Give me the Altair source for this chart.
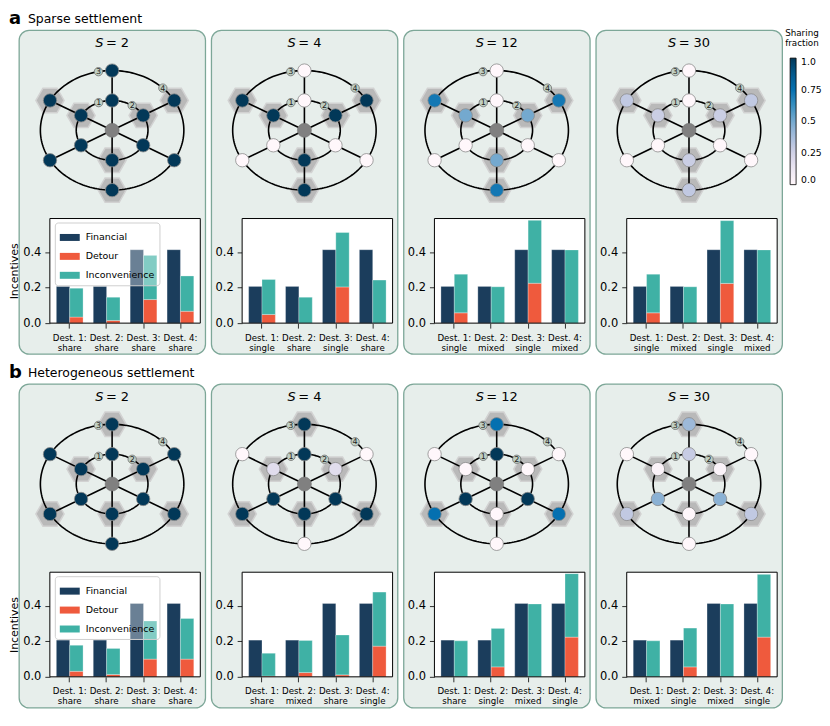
import math
import altair as alt
import pandas as pd

# ---------------- values ----------------
S_VALUES = [2, 4, 12, 30]
DESTINATIONS = ["Dest. 1:", "Dest. 2:", "Dest. 3:", "Dest. 4:"]
COMPONENTS = ["Financial", "Detour", "Inconvenience"]
FINANCIAL = [0.207, 0.207, 0.414, 0.414]

SPARSE_MODES = [["share", "share", "share", "share"],
                ["single", "share", "single", "share"],
                ["single", "mixed", "single", "mixed"],
                ["single", "mixed", "single", "mixed"]]
SPARSE_DETOUR = [[0.034, 0.015, 0.133, 0.067],
                 [0.049, 0.000, 0.204, 0.000],
                 [0.058, 0.000, 0.225, 0.000],
                 [0.058, 0.000, 0.224, 0.000]]
SPARSE_INCONV = [[0.163, 0.131, 0.249, 0.199],
                 [0.197, 0.146, 0.307, 0.243],
                 [0.218, 0.205, 0.355, 0.413],
                 [0.218, 0.205, 0.354, 0.413]]

HETERO_MODES = [["share", "share", "share", "share"],
                ["share", "mixed", "share", "single"],
                ["share", "single", "mixed", "single"],
                ["mixed", "single", "mixed", "single"]]
HETERO_DETOUR = [[0.031, 0.013, 0.100, 0.100],
                 [0.004, 0.024, 0.011, 0.173],
                 [0.000, 0.056, 0.000, 0.224],
                 [0.000, 0.056, 0.000, 0.224]]
HETERO_INCONV = [[0.147, 0.147, 0.215, 0.229],
                 [0.129, 0.181, 0.225, 0.305],
                 [0.203, 0.217, 0.411, 0.358],
                 [0.203, 0.219, 0.411, 0.354]]

# network: six spokes, inner ring (r = 0.5) and outer ring (r = 1)
SPOKE_ANGLES = [90, 30, -30, -90, -150, 150]
RING_RADII = [0.5, 1.0]
SPARSE_HEX = [[0, 1, 0, 1, 0, 1], [0, 1, 0, 1, 0, 1]]   # inner ring, outer ring
HETERO_HEX = [[0, 1, 0, 1, 0, 1], [1, 0, 1, 0, 1, 0]]
SPARSE_SHARE = [
    [[1, 1, 1, 1, 1, 1], [1, 1, 1, 1, 1, 1]],
    [[0, 1, 0, 1, 0, 1], [0, 1, 0, 1, 0, 1]],
    [[0, 0.5, 0, 0.5, 0, 0.5], [0, 0.72, 0, 0.72, 0, 0.72]],
    [[0, 0.27, 0, 0.27, 0, 0.27], [0, 0.3, 0, 0.3, 0, 0.3]],
]
HETERO_SHARE = [
    [[1, 1, 1, 1, 1, 1], [1, 1, 1, 1, 1, 1]],
    [[1, 0.18, 1, 1, 1, 0.18], [1, 0, 1, 0, 1, 0]],
    [[1, 0, 1, 0, 1, 0], [0.75, 0, 0.75, 0, 0.75, 0]],
    [[0.28, 0.03, 0.45, 0, 0.45, 0.03], [0.4, 0, 0.3, 0, 0.3, 0]],
]
DEST_LABELS = ["1", "2", "3", "4"]
DEST_LABEL_RADIUS = [0.5, 0.5, 1.0, 1.0]
DEST_LABEL_ANGLE = [112, 56, 101, 45]
SHARE_TITLE = ["Sharing", "fraction"]

# colour map (ColorBrewer PuBu)
PUBU = ["#fff7fb", "#ece7f2", "#d0d1e6", "#a6bddb", "#74a9cf",
        "#3690c0", "#0570b0", "#045a8d", "#023858"]

# ---------------- layout / style ----------------
PW, PH = 187, 325
CX, CY, RX, RY = 93.5, 100.5, 72, 60
BX0, BX1, BY0, BY1 = 31, 182, 189, 294
YMAX = 0.59
FIN_C, DET_C, INC_C = "#1b3d5c", "#ef5a3d", "#3fb1a5"
BOX_FILL, BOX_STROKE = "#e7eeeb", "#7da798"
HEX_PATH = "M-1,0L-0.5,-0.866L0.5,-0.866L1,0L0.5,0.866L-0.5,0.866Z"
RECT_PATH = "M-1,-0.35L1,-0.35L1,0.35L-1,0.35Z"
FONT = "DejaVu Sans"

share_scale = alt.Scale(domain=[i / 8 for i in range(9)], range=PUBU)
share_legend = alt.Legend(
    orient="none", legendX=774, legendY=28, type="gradient", direction="vertical",
    title=None, padding=0,
    gradientLength=127, gradientThickness=6, gradientStrokeColor="black",
    gradientStrokeWidth=0.8, labelFontSize=9.3, labelOffset=5, labelColor="black",
    labelOverlap=False, values=[0, 0.25, 0.5, 0.75, 1],
    labelExpr="datum.value == 0 ? '0.0' : (datum.value == 1 ? '1.0' : toString(datum.value))",
)
bar_legend = alt.Legend(
    orient="none", legendX=36, legendY=193, title=None, direction="vertical",
    symbolType=RECT_PATH, symbolSize=400, symbolStrokeWidth=0, symbolOpacity=1,
    labelFontSize=9.5, labelOffset=6, labelColor="black", rowPadding=4, padding=5,
    fillColor="rgba(255,255,255,0.35)", strokeColor="#cfcfcf", cornerRadius=3,
)


def one_row(text):
    return pd.DataFrame({"t": [text]})


def network(shares, hexes, s_val, row_tag=None, row_title=None, cbar_title=False):
    xs = alt.Scale(domain=[-1, 1], range=[CX - RX, CX + RX], nice=False, zero=False)
    ys = alt.Scale(domain=[-1, 1], range=[CY + RY, CY - RY], nice=False, zero=False)
    ex = alt.X("x:Q", scale=xs, axis=None)
    ey = alt.Y("y:Q", scale=ys, axis=None)

    ring_rows = []
    for r in RING_RADII:
        for i in range(181):
            t = 2 * math.pi * i / 180
            ring_rows.append({"ring": r, "i": i, "x": r * math.cos(t), "y": r * math.sin(t)})
    rings = alt.Chart(pd.DataFrame(ring_rows)).mark_line(
        color="black", strokeWidth=1.6).encode(x=ex, y=ey, detail="ring:N", order="i:Q")

    spoke_df = pd.DataFrame({
        "x": [0.0] * 6, "y": [0.0] * 6,
        "x2": [math.cos(math.radians(a)) for a in SPOKE_ANGLES],
        "y2": [math.sin(math.radians(a)) for a in SPOKE_ANGLES],
    })
    spokes = alt.Chart(spoke_df).mark_rule(color="black", strokeWidth=1.6).encode(
        x=ex, y=ey, x2="x2:Q", y2="y2:Q")

    node_rows = []
    for ri, r in enumerate(RING_RADII):
        for k, a in enumerate(SPOKE_ANGLES):
            node_rows.append({
                "x": r * math.cos(math.radians(a)), "y": r * math.sin(math.radians(a)),
                "share": shares[ri][k], "hex": hexes[ri][k],
            })
    node_df = pd.DataFrame(node_rows)
    hex_c = alt.Chart(node_df[node_df["hex"] == 1]).mark_point(
        shape=HEX_PATH, filled=True, size=800, fill="#b9b9b9", stroke="#d2d2d2",
        strokeWidth=1.5, opacity=1).encode(x=ex, y=ey)
    nodes_c = alt.Chart(node_df).mark_point(
        shape="circle", filled=True, size=180, stroke="#8c8c8c", strokeWidth=0.8,
        opacity=1).encode(x=ex, y=ey,
                          fill=alt.Fill("share:Q", scale=share_scale, legend=share_legend))
    center = alt.Chart(pd.DataFrame({"x": [0.0], "y": [0.0]})).mark_point(
        shape="circle", filled=True, size=200, fill="#808080", stroke="#707070",
        strokeWidth=0.5, opacity=1).encode(x=ex, y=ey)

    lab_df = pd.DataFrame({
        "x": [r * math.cos(math.radians(a)) for r, a in zip(DEST_LABEL_RADIUS, DEST_LABEL_ANGLE)],
        "y": [r * math.sin(math.radians(a)) for r, a in zip(DEST_LABEL_RADIUS, DEST_LABEL_ANGLE)],
        "lab": DEST_LABELS,
    })
    lab_pts = alt.Chart(lab_df).mark_point(
        shape="circle", filled=True, size=70, fill="#bfcfc4", stroke="#6f6f6f",
        strokeWidth=0.8, opacity=1).encode(x=ex, y=ey)
    lab_txt = alt.Chart(lab_df).mark_text(
        fontSize=8, color="#222222", baseline="middle", dy=0.5).encode(x=ex, y=ey, text="lab:N")

    num = str(s_val)
    w_s, gap = 8.3, 2.5
    w_rest = 13 * (0.838 + 0.318 + 0.636 * len(num))
    left = CX - (w_s + gap + w_rest) / 2
    s_txt = alt.Chart(one_row("S")).mark_text(
        fontSize=13, fontStyle="italic", align="right", baseline="alphabetic",
        color="black").encode(x=alt.value(left + w_s), y=alt.value(17), text="t:N")
    eq_txt = alt.Chart(one_row("= " + num)).mark_text(
        fontSize=13, align="left", baseline="alphabetic",
        color="black").encode(x=alt.value(left + w_s + gap), y=alt.value(17), text="t:N")

    layers = [hex_c, rings, spokes, nodes_c, center, lab_pts, lab_txt, s_txt, eq_txt]
    if row_tag:
        tag = alt.Chart(one_row(row_tag)).mark_text(
            fontSize=18, fontWeight="bold", align="left", baseline="alphabetic",
            color="black").encode(x=alt.value(-10), y=alt.value(-6), text="t:N")
        ttl = alt.Chart(one_row(row_title)).mark_text(
            fontSize=12.5, align="left", baseline="alphabetic",
            color="black").encode(x=alt.value(9), y=alt.value(-7), text="t:N")
        layers += [tag, ttl]
    if cbar_title:
        for j, word in enumerate(SHARE_TITLE):
            layers.append(alt.Chart(one_row(word)).mark_text(
                fontSize=8.8, align="left", baseline="alphabetic", color="black").encode(
                x=alt.value(PW + 3), y=alt.value(6 + 10 * j), text="t:N"))
    return alt.layer(*layers)


def bars(detour, inconv, modes, first):
    labs = [f"{d}|{m}" for d, m in zip(DESTINATIONS, modes)]
    rows = []
    for k, lab in enumerate(labs):
        rows.append({"lab": lab, "grp": "a", "comp": "Financial", "y0": 0.0, "y1": FINANCIAL[k]})
        rows.append({"lab": lab, "grp": "b", "comp": "Detour", "y0": 0.0, "y1": detour[k]})
        rows.append({"lab": lab, "grp": "b", "comp": "Inconvenience",
                     "y0": detour[k], "y1": detour[k] + inconv[k]})
    df = pd.DataFrame(rows)
    xs = alt.Scale(domain=labs, range=[BX0, BX1], paddingInner=0.276, paddingOuter=0.176)
    ys = alt.Scale(domain=[0, YMAX], range=[BY1, BY0], nice=False, zero=False)
    x_axis = alt.Axis(orient="bottom", offset=-(PH - BY1), title=None, labelAngle=0,
                      labelExpr="split(datum.label, '|')", labelFontSize=8.7,
                      labelLineHeight=10, labelPadding=5, labelBaseline="top",
                      tickSize=5, tickWidth=0.8, tickColor="black", domain=False,
                      labelColor="black", labelOverlap=False, labelFlush=False)
    y_axis = alt.Axis(orient="left", offset=-BX0, values=[0, 0.2, 0.4], format=".1f",
                      tickSize=5, tickWidth=0.8, tickColor="black", labelFontSize=11.5,
                      labelPadding=4, labelColor="black", domain=False, grid=False,
                      labelFlush=False, labelOverlap=False,
                      title="Incentives" if first else None, titleFontSize=11,
                      titleFontWeight="normal", titleColor="black", titlePadding=3)
    bg = alt.Chart(one_row("bg")).mark_rect(fill="white").encode(
        x=alt.value(BX0), x2=alt.value(BX1), y=alt.value(BY0), y2=alt.value(BY1))
    bar_c = alt.Chart(df).mark_bar(stroke="white", strokeWidth=0.4, strokeOpacity=0.7).encode(
        x=alt.X("lab:N", scale=xs, axis=x_axis, sort=labs),
        xOffset=alt.XOffset("grp:N", scale=alt.Scale(domain=["a", "b"], paddingInner=0,
                                                      paddingOuter=0)),
        y=alt.Y("y0:Q", scale=ys, axis=y_axis),
        y2="y1:Q",
        color=alt.Color("comp:N", scale=alt.Scale(domain=COMPONENTS,
                                                  range=[FIN_C, DET_C, INC_C]),
                        legend=bar_legend if first else None),
    )
    frame = alt.Chart(one_row("frame")).mark_rect(
        fillOpacity=0, stroke="black", strokeWidth=1).encode(
        x=alt.value(BX0), x2=alt.value(BX1), y=alt.value(BY0), y2=alt.value(BY1))
    return alt.layer(bg, bar_c, frame)


def panel(shares, hexes, s_val, detour, inconv, modes, first, tag=None, title=None,
          cbar_title=False):
    net = network(shares, hexes, s_val, tag if first else None, title if first else None,
                  cbar_title)
    bar = bars(detour, inconv, modes, first)
    return alt.layer(net, bar).resolve_scale(x="independent", y="independent").properties(
        width=PW, height=PH,
        view=alt.ViewBackground(fill=BOX_FILL, stroke=BOX_STROKE, strokeWidth=1.3,
                                cornerRadius=10))


def row(shares_all, hexes, detour_all, inconv_all, modes_all, tag, title, cbar=False):
    panels = [panel(shares_all[i], hexes, S_VALUES[i], detour_all[i], inconv_all[i],
                    modes_all[i], i == 0, tag, title, cbar and i == 3) for i in range(4)]
    return alt.hconcat(*panels, spacing=6, bounds="flush").resolve_scale(
        color="independent").resolve_legend(color="independent")


row_a = row(SPARSE_SHARE, SPARSE_HEX, SPARSE_DETOUR, SPARSE_INCONV, SPARSE_MODES,
            "a", "Sparse settlement", cbar=True)
row_b = row(HETERO_SHARE, HETERO_HEX, HETERO_DETOUR, HETERO_INCONV, HETERO_MODES,
            "b", "Heterogeneous settlement")

chart = alt.vconcat(row_a, row_b, spacing=8).resolve_scale(
    color="independent").resolve_legend(color="independent").properties(
    padding=0
).configure(font=FONT).configure_view(stroke=None)

chart.save("out.html", embed_options={"renderer": "svg", "actions": False})
